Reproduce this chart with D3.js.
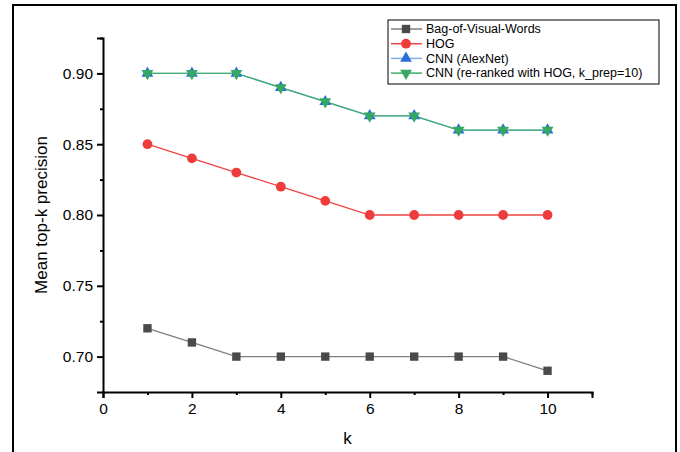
<!DOCTYPE html>
<html>
<head>
<meta charset="utf-8">
<script src="https://cdn.jsdelivr.net/npm/d3@7"></script>
<style>
  body { margin: 0; background: #fff; }
  svg { display: block; font-family: "Liberation Sans", Arial, sans-serif; }
</style>
</head>
<body>
<div id="chart"></div>
<script>
(() => {
  const ks = [1, 2, 3, 4, 5, 6, 7, 8, 9, 10];
  const seriesNames = ["Bag-of-Visual-Words", "HOG", "CNN  (AlexNet)", "CNN  (re-ranked with HOG, k_prep=10)"];
  const bovw = [0.72, 0.71, 0.70, 0.70, 0.70, 0.70, 0.70, 0.70, 0.70, 0.69];
  const hog = [0.85, 0.84, 0.83, 0.82, 0.81, 0.80, 0.80, 0.80, 0.80, 0.80];
  const cnn = [0.90, 0.90, 0.90, 0.89, 0.88, 0.87, 0.87, 0.86, 0.86, 0.86];
  const cnnReranked = [0.90, 0.90, 0.90, 0.89, 0.88, 0.87, 0.87, 0.86, 0.86, 0.86];
  const xTicks = [0, 2, 4, 6, 8, 10];
  const yTicks = [0.70, 0.75, 0.80, 0.85, 0.90];

  const width = 680, height = 452;
  const margin = { top: 38, left: 103, right: 88, bottom: 60 };
  const w = width - margin.left - margin.right,
        h = height - margin.top - margin.bottom;

  const svg = d3.select("#chart").append("svg")
    .attr("width", width)
    .attr("height", height);

  // outer frame (bottom runs off the page)
  svg.append("rect")
    .attr("x", 13).attr("y", 5)
    .attr("width", 663).attr("height", 460)
    .attr("fill", "none").attr("stroke", "#000").attr("stroke-width", 2);

  const g = svg.append("g")
    .attr("transform", `translate(${margin.left},${margin.top})`);

  const x = d3.scaleLinear().domain([0, 11]).range([0, w]);
  const y = d3.scaleLinear().domain([0.675, 0.925]).range([h, 0]);

  // x axis: major + minor ticks
  g.append("g")
    .attr("transform", `translate(0,${h})`)
    .call(d3.axisBottom(x).tickValues(xTicks).tickSize(6).tickPadding(5).tickFormat(d3.format("d")));
  g.append("g")
    .attr("transform", `translate(0,${h})`)
    .call(d3.axisBottom(x).tickValues([1, 3, 5, 7, 9, 11]).tickSize(3).tickFormat(""))
    .select(".domain").remove();

  g.append("g")
    .call(d3.axisLeft(y).tickValues(yTicks).tickSize(6).tickPadding(4).tickFormat(d3.format(".2f")));
  g.append("g")
    .call(d3.axisLeft(y).tickValues([0.725, 0.775, 0.825, 0.875, 0.925]).tickSize(3).tickFormat(""))
    .select(".domain").remove();

  g.selectAll(".domain").attr("stroke-width", 2).attr("stroke", "#000");
  g.selectAll(".tick line").attr("stroke-width", 2).attr("stroke", "#000");
  g.selectAll(".tick text").attr("font-size", 15.5).attr("fill", "#000")
    .attr("font-family", "Liberation Sans, Arial, sans-serif");

  g.append("text")
    .attr("x", x(5.5)).attr("y", h + 52)
    .attr("text-anchor", "middle")
    .attr("font-size", 17)
    .text("k");

  g.append("text")
    .attr("transform", "rotate(-90)")
    .attr("x", -y(0.8) + 0).attr("y", -56)
    .attr("text-anchor", "middle")
    .attr("font-size", 17)
    .text("Mean top-k precision");

  const series = [
    { name: seriesNames[0], values: bovw, line: "#7f7f7f", fill: "#4a4a4a", shape: d3.symbolSquare, size: 70, rot: 0 },
    { name: seriesNames[1], values: hog, line: "#ee4444", fill: "#ee3b3b", shape: d3.symbolCircle, size: 75, rot: 0 },
    { name: seriesNames[2], values: cnn, line: "#7fb0e6", fill: "#2a6fd6", shape: d3.symbolTriangle, size: 60, rot: 0 },
    { name: seriesNames[3], values: cnnReranked, line: "#3cae6c", fill: "#36a864", shape: d3.symbolTriangle, size: 60, rot: 180 }
  ];

  const line = d3.line().x((d, i) => x(ks[i])).y(d => y(d));

  series.forEach(s => {
    g.append("path")
      .datum(s.values)
      .attr("fill", "none")
      .attr("stroke", s.line)
      .attr("stroke-width", 1.3)
      .attr("d", line);
  });
  series.forEach(s => {
    g.selectAll(null)
      .data(s.values)
      .enter().append("path")
      .attr("d", d3.symbol().type(s.shape).size(s.size))
      .attr("transform", (d, i) => `translate(${x(ks[i])},${y(d)}) rotate(${s.rot})`)
      .attr("fill", s.fill);
  });

  // legend
  const legend = svg.append("g").attr("transform", "translate(388,20)");
  legend.append("rect")
    .attr("width", 271).attr("height", 64)
    .attr("fill", "#fff").attr("stroke", "#000").attr("stroke-width", 1);
  series.forEach((s, i) => {
    const cy = 9 + i * 14.7;
    legend.append("line")
      .attr("x1", 3).attr("x2", 34).attr("y1", cy).attr("y2", cy)
      .attr("stroke", s.line).attr("stroke-width", 1.5);
    legend.append("path")
      .attr("d", d3.symbol().type(s.shape).size(s.size))
      .attr("transform", `translate(18,${cy}) rotate(${s.rot})`)
      .attr("fill", s.fill);
    legend.append("text")
      .attr("x", 38).attr("y", cy)
      .attr("dy", "0.35em")
      .attr("font-size", 12.5)
      .text(s.name);
  });
})();
</script>
</body>
</html>
